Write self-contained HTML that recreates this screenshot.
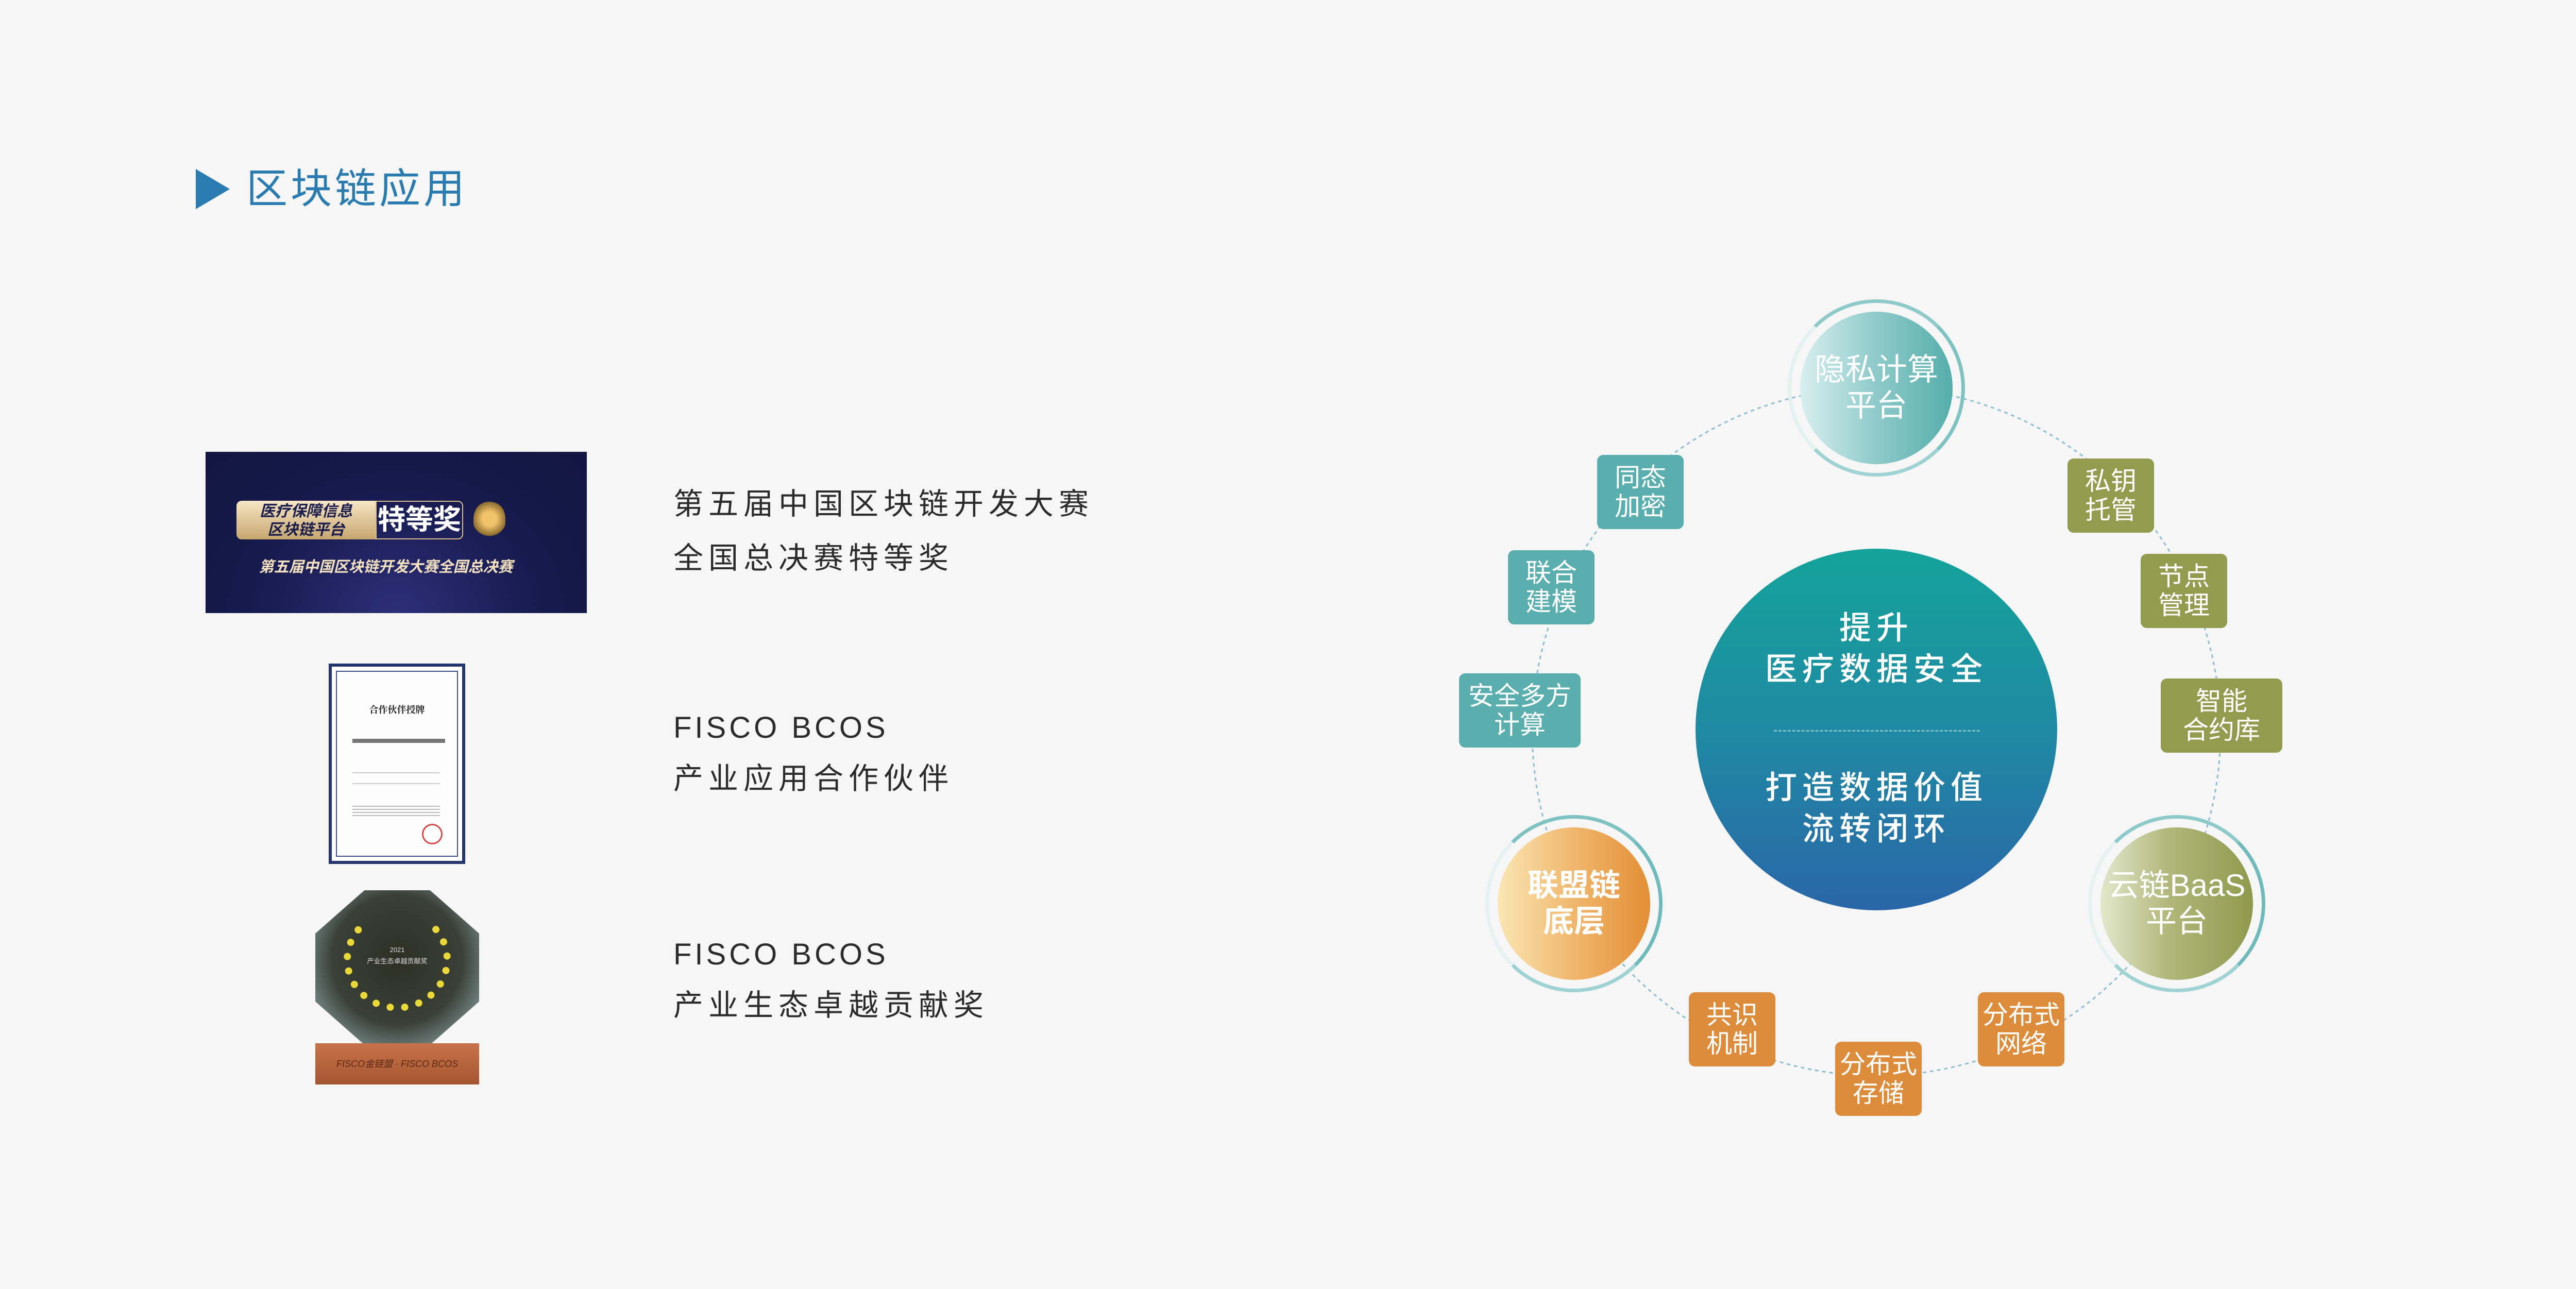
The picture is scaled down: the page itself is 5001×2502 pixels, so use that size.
<!DOCTYPE html>
<html><head><meta charset="utf-8"><style>
*{margin:0;padding:0;box-sizing:border-box}
body{width:5001px;height:2502px;background:#f6f6f6;position:relative;overflow:hidden;font-family:"Liberation Sans","Noto Sans CJK SC",sans-serif}
.a{position:absolute}
.t{color:#2b2b2b;font-size:58px;letter-spacing:10px;line-height:1}
.box{position:absolute;width:168px;height:144px;border-radius:12px;color:#fff;font-size:50px;line-height:56px;display:flex;align-items:center;justify-content:center;text-align:center;flex-direction:column}
.tl{background:#5aaead}.ol{background:#939c4e}.or{background:#dd8c3b}
.ring{position:absolute;border-radius:50%;border:7px solid #8ac6c6}
.cir{position:absolute;border-radius:50%;color:#fff;font-size:60px;line-height:70px;display:flex;align-items:center;justify-content:center;text-align:center;flex-direction:column}
</style></head><body>
<div class="a" style="left:380px;top:328px;width:0;height:0;border-top:39px solid transparent;border-bottom:39px solid transparent;border-left:66px solid #2a7cb0"></div>
<div class="a" style="left:478px;top:325px;font-size:80px;color:#2a7cb0;letter-spacing:6px;line-height:84px">区块链应用</div>

<div class="a" style="left:399px;top:877px;width:740px;height:313px;background:radial-gradient(ellipse at 50% 100%,#2c2f78 0%,#161a4d 55%,#12163f 100%)">
 <div class="a" style="left:60px;top:95px;width:270px;height:75px;border-radius:10px 0 0 10px;background:linear-gradient(#f7e6c6,#c7a66e);color:#1a1d4d;font-size:30px;font-weight:bold;font-style:italic;line-height:36px;text-align:center;padding-top:3px">医疗保障信息<br>区块链平台</div>
 <div class="a" style="left:330px;top:95px;width:170px;height:75px;border:2px solid #d9bd88;border-radius:0 10px 10px 0;color:#fff;font-size:54px;font-weight:bold;line-height:70px;text-align:center">特等奖</div>
 <div class="a" style="left:520px;top:95px;width:62px;height:70px;border-radius:50% 50% 40% 40%;background:radial-gradient(circle,#f0c36a 30%,#8a6a2f 70%,transparent 72%)"></div>
 <div class="a" style="left:50px;top:200px;width:600px;color:#f3e1c0;font-size:29px;font-weight:bold;font-style:italic;text-align:center">第五届中国区块链开发大赛全国总决赛</div>
</div>
<div class="a t" style="left:1307px;top:950px">第五届中国区块链开发大赛</div>
<div class="a t" style="left:1307px;top:1055px">全国总决赛特等奖</div>

<div class="a" style="left:638px;top:1288px;width:265px;height:389px;background:#fdfdfd;border:6px solid #23356f;box-shadow:inset 0 0 0 8px #fff,inset 0 0 0 10px #3a4f8a">
 <div class="a" style="left:0;top:70px;width:253px;text-align:center;font-size:18px;font-weight:bold;color:#222;font-family:'Liberation Serif','Noto Serif CJK SC',serif">合作伙伴授牌</div>
 <div class="a" style="left:40px;top:140px;width:180px;height:8px;background:#777"></div>
 <div class="a" style="left:40px;top:205px;width:170px;height:2px;background:#ccc"></div>
 <div class="a" style="left:40px;top:226px;width:170px;height:2px;background:#ccc"></div>
 <div class="a" style="left:40px;top:270px;width:170px;height:20px;background:repeating-linear-gradient(#bbb 0 2px,transparent 2px 6px)"></div>
 <div class="a" style="left:175px;top:305px;width:40px;height:40px;border-radius:50%;border:3px solid #d34a4a"></div>
</div>
<div class="a t" style="left:1307px;top:1384px;letter-spacing:6px">FISCO BCOS</div>
<div class="a t" style="left:1307px;top:1483px">产业应用合作伙伴</div>

<div class="a" style="left:612px;top:1728px;width:318px;height:300px;background:radial-gradient(circle at 50% 45%,#2d2f24 0%,#3a4038 55%,#7f9494 85%,#c9d4d4 100%);clip-path:polygon(30% 0,70% 0,100% 28%,100% 72%,70% 100%,30% 100%,0 72%,0 28%)">
 <div class="a" style="left:55px;top:35px;width:208px;height:200px;border-radius:50%;border:14px dotted #e8d83a;border-top-color:transparent"></div>
 <div class="a" style="left:0;top:105px;width:318px;text-align:center;color:#ddd;font-size:13px;line-height:22px">2021<br>产业生态卓越贡献奖</div>
</div>
<div class="a" style="left:612px;top:2025px;width:318px;height:80px;background:linear-gradient(#c7724a,#a5562f);color:#5a2a16;font-size:18px;text-align:center;line-height:80px;font-style:italic">FISCO金链盟 · FISCO BCOS</div>
<div class="a t" style="left:1307px;top:1824px;letter-spacing:6px">FISCO BCOS</div>
<div class="a t" style="left:1307px;top:1923px">产业生态卓越贡献奖</div>

<svg class="a" style="left:0;top:0" width="5001" height="2502"><circle cx="3642" cy="1420" r="668" fill="none" stroke="#8fbfcf" stroke-width="3" stroke-dasharray="7 7"/></svg>

<div class="a" style="left:3291px;top:1065px;width:702px;height:702px;border-radius:50%;background:linear-gradient(#14a39a,#1f8aa3 50%,#2a66a8)"></div>
<div class="a" style="left:3291px;top:1180px;width:702px;text-align:center;color:#fff;font-size:62px;letter-spacing:10px;line-height:80px;font-weight:500">提升<br>医疗数据安全</div>
<div class="a" style="left:3443px;top:1417px;width:400px;border-top:3px dashed #7fc0c6"></div>
<div class="a" style="left:3291px;top:1490px;width:702px;text-align:center;color:#fff;font-size:62px;letter-spacing:10px;line-height:80px;font-weight:500">打造数据价值<br>流转闭环</div>

<div class="ring" style="left:3470px;top:581px;width:344px;height:344px;border-color:#8fcaca #7fc2c2 #9fd2d2 #e3f1f1"></div>
<div class="cir" style="left:3494px;top:605px;width:296px;height:296px;background:linear-gradient(90deg,#d9efef,#8ecaca 50%,#55aeab)">隐私计算<br>平台</div>
<div class="ring" style="left:2883px;top:1582px;width:344px;height:344px;border-color:#7fc2c2 #6fbaba #9fd2d2 #e6f2f2"></div>
<div class="cir" style="left:2907px;top:1606px;width:296px;height:296px;background:linear-gradient(90deg,#fae6b4,#f0b76c 50%,#e38e35);font-weight:bold">联盟链<br>底层</div>
<div class="ring" style="left:4053px;top:1582px;width:344px;height:344px;border-color:#8fcaca #6fbaba #9fd2d2 #e6f2f2"></div>
<div class="cir" style="left:4077px;top:1606px;width:296px;height:296px;background:linear-gradient(90deg,#e3e7cc,#b0b77a 45%,#8f9a4d)">云链BaaS<br>平台</div>

<div class="box tl" style="left:3100px;top:883px">同态<br>加密</div>
<div class="box tl" style="left:2927px;top:1068px">联合<br>建模</div>
<div class="box tl" style="left:2832px;top:1307px;width:236px">安全多方<br>计算</div>
<div class="box ol" style="left:4013px;top:890px">私钥<br>托管</div>
<div class="box ol" style="left:4155px;top:1075px">节点<br>管理</div>
<div class="box ol" style="left:4194px;top:1317px;width:236px">智能<br>合约库</div>
<div class="box or" style="left:3278px;top:1926px">共识<br>机制</div>
<div class="box or" style="left:3562px;top:2022px">分布式<br>存储</div>
<div class="box or" style="left:3839px;top:1926px">分布式<br>网络</div>
</body></html>
